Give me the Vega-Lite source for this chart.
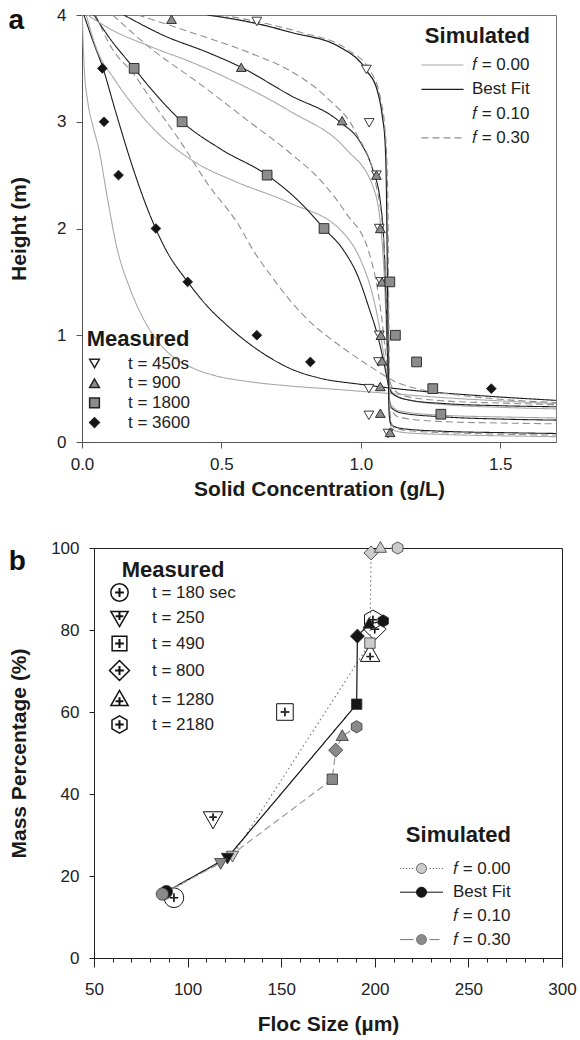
{
 "$schema": "https://vega.github.io/schema/vega-lite/v6.json",
 "background": "white",
 "padding": {"left": 7, "top": 5, "right": 5, "bottom": 0},
 "columns": 1,
 "spacing": 38,
 "resolve": {"scale": {"stroke": "independent", "strokeDash": "independent", "fill": "independent", "shape": "independent"}},
 "config": {
  "font": "Liberation Sans",
  "view": {"stroke": null},
  "axis": {"labelFont": "Liberation Sans", "labelFontSize": 17, "labelColor": "#222", "titleFont": "Liberation Sans", "titleFontSize": 21, "titleFontWeight": "bold", "titleColor": "#1a1a1a", "grid": false, "labelFlush": false, "tickWidth": 1, "domainWidth": 1},
  "legend": {"labelFont": "Liberation Sans", "labelFontSize": 17, "labelColor": "#222", "titleFont": "Liberation Sans", "titleFontSize": 22, "titleFontWeight": "bold", "titleColor": "#1a1a1a", "padding": 0},
  "title": {"font": "Liberation Sans"}
 },
 "datasets": {
  "curvesA": [
   {"t":3600,"s":"f = 0.00","c":0.001,"h":4},{"t":3600,"s":"f = 0.00","c":0.004,"h":3.75},{"t":3600,"s":"f = 0.00","c":0.008,"h":3.5},{"t":3600,"s":"f = 0.00","c":0.02,"h":3.2},{"t":3600,"s":"f = 0.00","c":0.04,"h":2.95},{"t":3600,"s":"f = 0.00","c":0.061,"h":2.74},{"t":3600,"s":"f = 0.00","c":0.09,"h":2.3},{"t":3600,"s":"f = 0.00","c":0.127,"h":1.8},{"t":3600,"s":"f = 0.00","c":0.17,"h":1.45},{"t":3600,"s":"f = 0.00","c":0.217,"h":1.17},{"t":3600,"s":"f = 0.00","c":0.27,"h":0.95},{"t":3600,"s":"f = 0.00","c":0.325,"h":0.8},{"t":3600,"s":"f = 0.00","c":0.4,"h":0.69},{"t":3600,"s":"f = 0.00","c":0.48,"h":0.62},{"t":3600,"s":"f = 0.00","c":0.6,"h":0.565},{"t":3600,"s":"f = 0.00","c":0.745,"h":0.525},{"t":3600,"s":"f = 0.00","c":0.9,"h":0.495},{"t":3600,"s":"f = 0.00","c":1.1,"h":0.455},{"t":3600,"s":"f = 0.00","c":1.3,"h":0.415},{"t":3600,"s":"f = 0.00","c":1.5,"h":0.385},{"t":3600,"s":"f = 0.00","c":1.7,"h":0.36},
   {"t":3600,"s":"Best Fit","c":0.007,"h":4},{"t":3600,"s":"Best Fit","c":0.04,"h":3.75},{"t":3600,"s":"Best Fit","c":0.073,"h":3.52},{"t":3600,"s":"Best Fit","c":0.12,"h":3.1},{"t":3600,"s":"Best Fit","c":0.181,"h":2.58},{"t":3600,"s":"Best Fit","c":0.24,"h":2.15},{"t":3600,"s":"Best Fit","c":0.301,"h":1.8},{"t":3600,"s":"Best Fit","c":0.379,"h":1.5},{"t":3600,"s":"Best Fit","c":0.45,"h":1.27},{"t":3600,"s":"Best Fit","c":0.517,"h":1.1},{"t":3600,"s":"Best Fit","c":0.6,"h":0.92},{"t":3600,"s":"Best Fit","c":0.68,"h":0.78},{"t":3600,"s":"Best Fit","c":0.745,"h":0.69},{"t":3600,"s":"Best Fit","c":0.85,"h":0.6},{"t":3600,"s":"Best Fit","c":1.0,"h":0.54},{"t":3600,"s":"Best Fit","c":1.2,"h":0.48},{"t":3600,"s":"Best Fit","c":1.45,"h":0.43},{"t":3600,"s":"Best Fit","c":1.7,"h":0.39},
   {"t":3600,"s":"f = 0.30","c":0.049,"h":4},{"t":3600,"s":"f = 0.30","c":0.1,"h":3.72},{"t":3600,"s":"f = 0.30","c":0.193,"h":3.42},{"t":3600,"s":"f = 0.30","c":0.27,"h":3.12},{"t":3600,"s":"f = 0.30","c":0.349,"h":2.83},{"t":3600,"s":"f = 0.30","c":0.45,"h":2.42},{"t":3600,"s":"f = 0.30","c":0.565,"h":2.02},{"t":3600,"s":"f = 0.30","c":0.613,"h":1.8},{"t":3600,"s":"f = 0.30","c":0.68,"h":1.55},{"t":3600,"s":"f = 0.30","c":0.745,"h":1.33},{"t":3600,"s":"f = 0.30","c":0.82,"h":1.12},{"t":3600,"s":"f = 0.30","c":0.9,"h":0.95},{"t":3600,"s":"f = 0.30","c":0.98,"h":0.8},{"t":3600,"s":"f = 0.30","c":1.05,"h":0.68},{"t":3600,"s":"f = 0.30","c":1.12,"h":0.57},{"t":3600,"s":"f = 0.30","c":1.2,"h":0.5},{"t":3600,"s":"f = 0.30","c":1.35,"h":0.44},{"t":3600,"s":"f = 0.30","c":1.5,"h":0.4},{"t":3600,"s":"f = 0.30","c":1.7,"h":0.37},
   {"t":1800,"s":"f = 0.00","c":0.015,"h":4},{"t":1800,"s":"f = 0.00","c":0.05,"h":3.7},{"t":1800,"s":"f = 0.00","c":0.121,"h":3.38},{"t":1800,"s":"f = 0.00","c":0.2,"h":3.1},{"t":1800,"s":"f = 0.00","c":0.277,"h":2.88},{"t":1800,"s":"f = 0.00","c":0.4,"h":2.63},{"t":1800,"s":"f = 0.00","c":0.55,"h":2.44},{"t":1800,"s":"f = 0.00","c":0.745,"h":2.24},{"t":1800,"s":"f = 0.00","c":0.937,"h":1.96},{"t":1800,"s":"f = 0.00","c":1.0,"h":1.7},{"t":1800,"s":"f = 0.00","c":1.04,"h":1.4},{"t":1800,"s":"f = 0.00","c":1.065,"h":1.1},{"t":1800,"s":"f = 0.00","c":1.08,"h":0.85},{"t":1800,"s":"f = 0.00","c":1.092,"h":0.68},{"t":1800,"s":"f = 0.00","c":1.1,"h":0.56},{"t":1800,"s":"f = 0.00","c":1.115,"h":0.46},{"t":1800,"s":"f = 0.00","c":1.16,"h":0.4},{"t":1800,"s":"f = 0.00","c":1.3,"h":0.35},{"t":1800,"s":"f = 0.00","c":1.5,"h":0.325},{"t":1800,"s":"f = 0.00","c":1.7,"h":0.31},
   {"t":1800,"s":"Best Fit","c":0.043,"h":4},{"t":1800,"s":"Best Fit","c":0.1,"h":3.78},{"t":1800,"s":"Best Fit","c":0.187,"h":3.5},{"t":1800,"s":"Best Fit","c":0.27,"h":3.24},{"t":1800,"s":"Best Fit","c":0.359,"h":3.0},{"t":1800,"s":"Best Fit","c":0.5,"h":2.74},{"t":1800,"s":"Best Fit","c":0.664,"h":2.5},{"t":1800,"s":"Best Fit","c":0.78,"h":2.25},{"t":1800,"s":"Best Fit","c":0.868,"h":2.0},{"t":1800,"s":"Best Fit","c":0.937,"h":1.8},{"t":1800,"s":"Best Fit","c":0.99,"h":1.55},{"t":1800,"s":"Best Fit","c":1.03,"h":1.25},{"t":1800,"s":"Best Fit","c":1.06,"h":1.0},{"t":1800,"s":"Best Fit","c":1.078,"h":0.8},{"t":1800,"s":"Best Fit","c":1.09,"h":0.65},{"t":1800,"s":"Best Fit","c":1.1,"h":0.52},{"t":1800,"s":"Best Fit","c":1.12,"h":0.44},{"t":1800,"s":"Best Fit","c":1.18,"h":0.39},{"t":1800,"s":"Best Fit","c":1.3,"h":0.36},{"t":1800,"s":"Best Fit","c":1.5,"h":0.34},{"t":1800,"s":"Best Fit","c":1.7,"h":0.33},
   {"t":1800,"s":"f = 0.30","c":0.11,"h":4},{"t":1800,"s":"f = 0.30","c":0.25,"h":3.68},{"t":1800,"s":"f = 0.30","c":0.42,"h":3.36},{"t":1800,"s":"f = 0.30","c":0.6,"h":3.0},{"t":1800,"s":"f = 0.30","c":0.745,"h":2.71},{"t":1800,"s":"f = 0.30","c":0.863,"h":2.43},{"t":1800,"s":"f = 0.30","c":0.948,"h":2.14},{"t":1800,"s":"f = 0.30","c":1.03,"h":1.77},{"t":1800,"s":"f = 0.30","c":1.062,"h":1.4},{"t":1800,"s":"f = 0.30","c":1.08,"h":1.05},{"t":1800,"s":"f = 0.30","c":1.09,"h":0.8},{"t":1800,"s":"f = 0.30","c":1.1,"h":0.62},{"t":1800,"s":"f = 0.30","c":1.115,"h":0.5},{"t":1800,"s":"f = 0.30","c":1.16,"h":0.43},{"t":1800,"s":"f = 0.30","c":1.3,"h":0.385},{"t":1800,"s":"f = 0.30","c":1.5,"h":0.365},{"t":1800,"s":"f = 0.30","c":1.7,"h":0.35},
   {"t":900,"s":"f = 0.00","c":0.02,"h":4},{"t":900,"s":"f = 0.00","c":0.1,"h":3.87},{"t":900,"s":"f = 0.00","c":0.25,"h":3.7},{"t":900,"s":"f = 0.00","c":0.4,"h":3.55},{"t":900,"s":"f = 0.00","c":0.52,"h":3.41},{"t":900,"s":"f = 0.00","c":0.745,"h":3.1},{"t":900,"s":"f = 0.00","c":0.948,"h":2.74},{"t":900,"s":"f = 0.00","c":1.044,"h":2.39},{"t":900,"s":"f = 0.00","c":1.072,"h":2.0},{"t":900,"s":"f = 0.00","c":1.085,"h":1.5},{"t":900,"s":"f = 0.00","c":1.093,"h":0.95},{"t":900,"s":"f = 0.00","c":1.098,"h":0.6},{"t":900,"s":"f = 0.00","c":1.101,"h":0.45},{"t":900,"s":"f = 0.00","c":1.108,"h":0.35},{"t":900,"s":"f = 0.00","c":1.14,"h":0.29},{"t":900,"s":"f = 0.00","c":1.3,"h":0.25},{"t":900,"s":"f = 0.00","c":1.5,"h":0.235},{"t":900,"s":"f = 0.00","c":1.7,"h":0.225},
   {"t":900,"s":"Best Fit","c":0.15,"h":4},{"t":900,"s":"Best Fit","c":0.3,"h":3.8},{"t":900,"s":"Best Fit","c":0.45,"h":3.65},{"t":900,"s":"Best Fit","c":0.571,"h":3.51},{"t":900,"s":"Best Fit","c":0.745,"h":3.25},{"t":900,"s":"Best Fit","c":0.924,"h":3.0},{"t":900,"s":"Best Fit","c":1.0,"h":2.8},{"t":900,"s":"Best Fit","c":1.043,"h":2.55},{"t":900,"s":"Best Fit","c":1.07,"h":2.25},{"t":900,"s":"Best Fit","c":1.082,"h":1.9},{"t":900,"s":"Best Fit","c":1.09,"h":1.4},{"t":900,"s":"Best Fit","c":1.095,"h":0.9},{"t":900,"s":"Best Fit","c":1.099,"h":0.55},{"t":900,"s":"Best Fit","c":1.102,"h":0.4},{"t":900,"s":"Best Fit","c":1.11,"h":0.32},{"t":900,"s":"Best Fit","c":1.15,"h":0.27},{"t":900,"s":"Best Fit","c":1.3,"h":0.235},{"t":900,"s":"Best Fit","c":1.5,"h":0.215},{"t":900,"s":"Best Fit","c":1.7,"h":0.205},
   {"t":900,"s":"f = 0.30","c":0.2,"h":4},{"t":900,"s":"f = 0.30","c":0.4,"h":3.83},{"t":900,"s":"f = 0.30","c":0.607,"h":3.64},{"t":900,"s":"f = 0.30","c":0.745,"h":3.48},{"t":900,"s":"f = 0.30","c":0.876,"h":3.23},{"t":900,"s":"f = 0.30","c":0.984,"h":2.89},{"t":900,"s":"f = 0.30","c":1.056,"h":2.39},{"t":900,"s":"f = 0.30","c":1.078,"h":2.0},{"t":900,"s":"f = 0.30","c":1.09,"h":1.5},{"t":900,"s":"f = 0.30","c":1.097,"h":0.9},{"t":900,"s":"f = 0.30","c":1.1,"h":0.55},{"t":900,"s":"f = 0.30","c":1.103,"h":0.4},{"t":900,"s":"f = 0.30","c":1.11,"h":0.3},{"t":900,"s":"f = 0.30","c":1.14,"h":0.23},{"t":900,"s":"f = 0.30","c":1.3,"h":0.19},{"t":900,"s":"f = 0.30","c":1.5,"h":0.178},{"t":900,"s":"f = 0.30","c":1.7,"h":0.17},
   {"t":450,"s":"f = 0.00","c":0.46,"h":4},{"t":450,"s":"f = 0.00","c":0.64,"h":3.91},{"t":450,"s":"f = 0.00","c":0.76,"h":3.83},{"t":450,"s":"f = 0.00","c":0.93,"h":3.69},{"t":450,"s":"f = 0.00","c":1.025,"h":3.47},{"t":450,"s":"f = 0.00","c":1.063,"h":3.27},{"t":450,"s":"f = 0.00","c":1.079,"h":3.04},{"t":450,"s":"f = 0.00","c":1.089,"h":2.78},{"t":450,"s":"f = 0.00","c":1.094,"h":2.3},{"t":450,"s":"f = 0.00","c":1.097,"h":1.6},{"t":450,"s":"f = 0.00","c":1.1,"h":0.9},{"t":450,"s":"f = 0.00","c":1.102,"h":0.35},{"t":450,"s":"f = 0.00","c":1.104,"h":0.2},{"t":450,"s":"f = 0.00","c":1.112,"h":0.12},{"t":450,"s":"f = 0.00","c":1.15,"h":0.09},{"t":450,"s":"f = 0.00","c":1.3,"h":0.07},{"t":450,"s":"f = 0.00","c":1.5,"h":0.058},{"t":450,"s":"f = 0.00","c":1.7,"h":0.05},
   {"t":450,"s":"Best Fit","c":0.45,"h":4},{"t":450,"s":"Best Fit","c":0.627,"h":3.92},{"t":450,"s":"Best Fit","c":0.745,"h":3.84},{"t":450,"s":"Best Fit","c":0.924,"h":3.7},{"t":450,"s":"Best Fit","c":1.02,"h":3.48},{"t":450,"s":"Best Fit","c":1.06,"h":3.28},{"t":450,"s":"Best Fit","c":1.077,"h":3.05},{"t":450,"s":"Best Fit","c":1.087,"h":2.8},{"t":450,"s":"Best Fit","c":1.092,"h":2.3},{"t":450,"s":"Best Fit","c":1.095,"h":1.6},{"t":450,"s":"Best Fit","c":1.098,"h":0.9},{"t":450,"s":"Best Fit","c":1.1,"h":0.4},{"t":450,"s":"Best Fit","c":1.102,"h":0.25},{"t":450,"s":"Best Fit","c":1.11,"h":0.16},{"t":450,"s":"Best Fit","c":1.15,"h":0.125},{"t":450,"s":"Best Fit","c":1.3,"h":0.1},{"t":450,"s":"Best Fit","c":1.5,"h":0.088},{"t":450,"s":"Best Fit","c":1.7,"h":0.08},
   {"t":450,"s":"f = 0.30","c":0.5,"h":4},{"t":450,"s":"f = 0.30","c":0.66,"h":3.92},{"t":450,"s":"f = 0.30","c":0.78,"h":3.84},{"t":450,"s":"f = 0.30","c":0.95,"h":3.68},{"t":450,"s":"f = 0.30","c":1.04,"h":3.45},{"t":450,"s":"f = 0.30","c":1.072,"h":3.2},{"t":450,"s":"f = 0.30","c":1.086,"h":2.95},{"t":450,"s":"f = 0.30","c":1.094,"h":2.6},{"t":450,"s":"f = 0.30","c":1.098,"h":2.0},{"t":450,"s":"f = 0.30","c":1.1,"h":1.3},{"t":450,"s":"f = 0.30","c":1.102,"h":0.7},{"t":450,"s":"f = 0.30","c":1.104,"h":0.35},{"t":450,"s":"f = 0.30","c":1.108,"h":0.2},{"t":450,"s":"f = 0.30","c":1.12,"h":0.13},{"t":450,"s":"f = 0.30","c":1.2,"h":0.1},{"t":450,"s":"f = 0.30","c":1.4,"h":0.08},{"t":450,"s":"f = 0.30","c":1.7,"h":0.065}
  ],
  "measA": [
   {"lab":"t = 450s","c":0.627,"h":3.94},{"lab":"t = 450s","c":1.02,"h":3.49},{"lab":"t = 450s","c":1.03,"h":2.99},{"lab":"t = 450s","c":1.056,"h":2.5},{"lab":"t = 450s","c":1.066,"h":2.0},{"lab":"t = 450s","c":1.072,"h":1.5},{"lab":"t = 450s","c":1.066,"h":1.0},{"lab":"t = 450s","c":1.063,"h":0.75},{"lab":"t = 450s","c":1.029,"h":0.5},{"lab":"t = 450s","c":1.029,"h":0.25},{"lab":"t = 450s","c":1.098,"h":0.08},
   {"lab":"t = 900","c":0.321,"h":3.96},{"lab":"t = 900","c":0.571,"h":3.51},{"lab":"t = 900","c":0.933,"h":3.01},{"lab":"t = 900","c":1.056,"h":2.5},{"lab":"t = 900","c":1.07,"h":2.0},{"lab":"t = 900","c":1.076,"h":1.5},{"lab":"t = 900","c":1.072,"h":1.0},{"lab":"t = 900","c":1.076,"h":0.76},{"lab":"t = 900","c":1.07,"h":0.52},{"lab":"t = 900","c":1.07,"h":0.27},{"lab":"t = 900","c":1.105,"h":0.09},
   {"lab":"t = 1800","c":0.187,"h":3.5},{"lab":"t = 1800","c":0.359,"h":3.0},{"lab":"t = 1800","c":0.664,"h":2.5},{"lab":"t = 1800","c":0.868,"h":2.0},{"lab":"t = 1800","c":1.104,"h":1.5},{"lab":"t = 1800","c":1.124,"h":1.0},{"lab":"t = 1800","c":1.2,"h":0.75},{"lab":"t = 1800","c":1.258,"h":0.5},{"lab":"t = 1800","c":1.287,"h":0.26},
   {"lab":"t = 3600","c":0.073,"h":3.5},{"lab":"t = 3600","c":0.079,"h":3.0},{"lab":"t = 3600","c":0.131,"h":2.5},{"lab":"t = 3600","c":0.265,"h":2.0},{"lab":"t = 3600","c":0.379,"h":1.5},{"lab":"t = 3600","c":0.627,"h":1.0},{"lab":"t = 3600","c":0.819,"h":0.75},{"lab":"t = 3600","c":1.468,"h":0.5}
  ],
  "measB": [
   {"t":180,"lab":"t = 180 sec","size":92.7,"pct":14.7},
   {"t":250,"lab":"t = 250","size":113.6,"pct":34.0},
   {"t":490,"lab":"t = 490","size":152,"pct":60},
   {"t":800,"lab":"t = 800","size":200,"pct":80.2},
   {"t":1280,"lab":"t = 1280","size":197.5,"pct":74},
   {"t":2180,"lab":"t = 2180","size":199,"pct":82.5}
  ],
  "simB": [
   {"s":"f = 0.00","t":180,"lab":"t = 180 sec","size":88,"pct":15.8},
   {"s":"f = 0.00","t":250,"lab":"t = 250","size":124,"pct":25},
   {"s":"f = 0.00","t":490,"lab":"t = 490","size":197.4,"pct":76.8},
   {"s":"f = 0.00","t":800,"lab":"t = 800","size":198,"pct":98.8},
   {"s":"f = 0.00","t":1280,"lab":"t = 1280","size":203,"pct":100},
   {"s":"f = 0.00","t":2180,"lab":"t = 2180","size":212.2,"pct":100},
   {"s":"Best Fit","t":180,"lab":"t = 180 sec","size":88.7,"pct":16.2},
   {"s":"Best Fit","t":250,"lab":"t = 250","size":121.3,"pct":24.5},
   {"s":"Best Fit","t":490,"lab":"t = 490","size":190.3,"pct":61.9},
   {"s":"Best Fit","t":800,"lab":"t = 800","size":190.7,"pct":78.5},
   {"s":"Best Fit","t":1280,"lab":"t = 1280","size":197,"pct":81.5},
   {"s":"Best Fit","t":2180,"lab":"t = 2180","size":204.5,"pct":82.2},
   {"s":"f = 0.30","t":180,"lab":"t = 180 sec","size":86.5,"pct":15.6},
   {"s":"f = 0.30","t":250,"lab":"t = 250","size":117.7,"pct":23.2},
   {"s":"f = 0.30","t":490,"lab":"t = 490","size":177.3,"pct":43.6},
   {"s":"f = 0.30","t":800,"lab":"t = 800","size":179.1,"pct":50.7},
   {"s":"f = 0.30","t":1280,"lab":"t = 1280","size":182.6,"pct":54.1},
   {"s":"f = 0.30","t":2180,"lab":"t = 2180","size":190.3,"pct":56.4}
  ],
  "spacer": [{"v": 0}]
 },
 "concat": [
  {
   "spacing": 0,
   "resolve": {"scale": {"stroke": "independent", "strokeDash": "independent", "fill": "independent", "shape": "independent"}},
   "hconcat": [
    {"width": 1, "height": 1, "data": {"name": "spacer"}, "mark": {"type": "rect", "opacity": 0}, "encoding": {}},
    {
     "width": 474, "height": 427,
     "title": {"text": "a", "orient": "top", "anchor": "start", "frame": "bounds", "fontSize": 28, "fontWeight": "bold", "color": "#111", "baseline": "alphabetic", "offset": -51},
     "view": {"stroke": "#777", "strokeWidth": 1},
     "layer": [
      {
       "data": {"name": "curvesA"},
       "mark": {"type": "line", "interpolate": "monotone", "clip": true, "strokeWidth": 1.1},
       "encoding": {
        "x": {"field": "c", "type": "quantitative", "scale": {"domain": [0, 1.7], "nice": false, "zero": false}, "axis": {"title": "Solid Concentration (g/L)", "values": [0, 0.5, 1, 1.5], "format": ".1f", "tickSize": 6, "labelPadding": 8, "titlePadding": 6, "domainColor": "#555", "tickColor": "#555"}},
        "y": {"field": "h", "type": "quantitative", "scale": {"domain": [0, 4], "nice": false}, "axis": {"title": "Height (m)", "values": [0, 1, 2, 3, 4], "format": "d", "tickSize": 6, "labelPadding": 10, "titlePadding": 27, "domainColor": "#555", "tickColor": "#555"}},
        "detail": {"field": "t", "type": "nominal"},
        "stroke": {"field": "s", "type": "nominal", "scale": {"domain": ["f = 0.00", "Best Fit", "f = 0.10", "f = 0.30"], "range": ["#a8a8a8", "#1c1c1c", "rgba(0,0,0,0)", "#8f8f8f"]},
         "legend": {"title": "Simulated", "orient": "none", "legendX": 343, "legendY": 11, "titleAnchor": "end", "symbolType": "M-4.2,0H4.2", "symbolSize": 100, "symbolStrokeWidth": 1.2, "labelOffset": 21, "rowPadding": 6.3, "titlePadding": 8.5, "labelExpr": "replace(datum.label, 'f = ', '𝑓 = ')"}},
        "strokeDash": {"field": "s", "type": "nominal", "scale": {"domain": ["f = 0.00", "Best Fit", "f = 0.10", "f = 0.30"], "range": [[1, 0], [1, 0], [1, 0], [7, 4]]},
         "legend": {"title": "Simulated", "orient": "none", "legendX": 343, "legendY": 11, "titleAnchor": "end", "symbolType": "M-4.2,0H4.2", "symbolSize": 100, "symbolStrokeWidth": 1.2, "labelOffset": 21, "rowPadding": 6.3, "titlePadding": 8.5, "labelExpr": "replace(datum.label, 'f = ', '𝑓 = ')"}}
       }
      },
      {
       "data": {"name": "measA"},
       "mark": {"type": "point", "filled": true, "opacity": 1, "stroke": "#222", "strokeWidth": 0.9, "size": 95},
       "encoding": {
        "x": {"field": "c", "type": "quantitative"},
        "y": {"field": "h", "type": "quantitative"},
        "shape": {"field": "lab", "type": "nominal", "scale": {"domain": ["t = 450s", "t = 900", "t = 1800", "t = 3600"], "range": ["triangle-down", "triangle-up", "square", "diamond"]},
         "legend": {"title": "Measured", "orient": "none", "legendX": 4, "legendY": 314, "titleAnchor": "middle", "symbolSize": 95, "labelOffset": 25, "rowPadding": 1.7, "titlePadding": 4,
          "encode": {"symbols": {"stroke": {"value": "#222"}, "strokeWidth": {"value": 0.9}}}}},
        "fill": {"field": "lab", "type": "nominal", "scale": {"domain": ["t = 450s", "t = 900", "t = 1800", "t = 3600"], "range": ["#ffffff", "#8c8c8c", "#8c8c8c", "#141414"]},
         "legend": {"title": "Measured", "orient": "none", "legendX": 4, "legendY": 314, "titleAnchor": "middle", "symbolSize": 95, "labelOffset": 25, "rowPadding": 1.7, "titlePadding": 4,
          "encode": {"symbols": {"stroke": {"value": "#222"}, "strokeWidth": {"value": 0.9}}}}}
       }
      }
     ]
    }
   ]
  },
  {
   "spacing": 0,
   "resolve": {"scale": {"stroke": "independent", "strokeDash": "independent", "fill": "independent", "shape": "independent"}},
   "hconcat": [
    {"width": 1, "height": 1, "data": {"name": "spacer"}, "mark": {"type": "rect", "opacity": 0}, "encoding": {}},
    {
     "width": 468, "height": 410,
     "title": {"text": "b", "orient": "top", "anchor": "start", "frame": "bounds", "fontSize": 28, "fontWeight": "bold", "color": "#111", "baseline": "alphabetic", "offset": -59},
     "view": {"stroke": "#222", "strokeWidth": 1},
     "resolve": {"scale": {"shape": "independent", "fill": "independent", "stroke": "independent", "strokeDash": "independent"}, "axis": {"x": "independent"}},
     "layer": [
      {
       "data": {"name": "measB"},
       "mark": {"type": "point", "filled": true, "opacity": 1, "fill": "white", "stroke": "#111", "strokeWidth": 1, "size": 380},
       "encoding": {
        "x": {"field": "size", "type": "quantitative", "scale": {"domain": [50, 300], "nice": false, "zero": false},
         "axis": {"title": "Floc Size (µm)", "orient": "bottom", "values": [50, 100, 150, 200, 250, 300], "tickSize": 9, "labelPadding": 14, "titlePadding": 16, "domainColor": "#222", "tickColor": "#222"}},
        "y": {"field": "pct", "type": "quantitative", "scale": {"domain": [0, 100], "nice": false},
         "axis": {"title": "Mass Percentage (%)", "values": [0, 20, 40, 60, 80, 100], "tickSize": 5, "labelPadding": 10, "titlePadding": 21, "domainColor": "#222", "tickColor": "#222"}},
        "shape": {"field": "lab", "type": "nominal", "scale": {"domain": ["t = 180 sec", "t = 250", "t = 490", "t = 800", "t = 1280", "t = 2180"],
          "range": [
           "M-1,0A1,1 0 1,0 1,0A1,1 0 1,0 -1,0ZM-0.42,-0.03H-0.03V-0.42H0.03V-0.03H0.42V0.03H0.03V0.42H-0.03V0.03H-0.42Z",
           "M-1,-0.7L1,-0.7L0,1.05ZM-0.36,-0.18H-0.03V-0.51H0.03V-0.18H0.36V-0.12H0.03V0.21H-0.03V-0.12H-0.36Z",
           "M-0.85,-0.85H0.85V0.85H-0.85ZM-0.42,-0.03H-0.03V-0.42H0.03V-0.03H0.42V0.03H0.03V0.42H-0.03V0.03H-0.42Z",
           "M0,-1.15L1.15,0L0,1.15L-1.15,0ZM-0.42,-0.03H-0.03V-0.42H0.03V-0.03H0.42V0.03H0.03V0.42H-0.03V0.03H-0.42Z",
           "M-1,0.7L1,0.7L0,-1.05ZM-0.36,0.17H-0.03V-0.16H0.03V0.17H0.36V0.23H0.03V0.56H-0.03V0.23H-0.36Z",
           "M0,-1L0.866,-0.5L0.866,0.5L0,1L-0.866,0.5L-0.866,-0.5ZM-0.4,-0.03H-0.03V-0.4H0.03V-0.03H0.4V0.03H0.03V0.4H-0.03V0.03H-0.4Z"
          ]},
         "legend": {"title": "Measured", "orient": "none", "legendX": 16, "legendY": 12, "titleAnchor": "middle", "symbolSize": 300, "labelOffset": 23, "rowPadding": 3, "titlePadding": 1,
          "encode": {"symbols": {"stroke": {"value": "#111"}, "fill": {"value": "white"}, "strokeWidth": {"value": 1}}}}}
       }
      },
      {
       "data": {"name": "simB"},
       "mark": {"type": "line", "strokeWidth": 1.2},
       "encoding": {
        "x": {"field": "size", "type": "quantitative",
         "axis": {"orient": "bottom", "values": [60,70,80,90,110,120,130,140,160,170,180,190,210,220,230,240,260,270,280,290], "labels": false, "tickSize": 4, "domain": false, "title": null, "tickColor": "#222"}},
        "y": {"field": "pct", "type": "quantitative"},
        "order": {"field": "t", "type": "quantitative"},
        "stroke": {"field": "s", "type": "nominal", "scale": {"domain": ["f = 0.00", "Best Fit", "f = 0.30"], "range": ["#7a7a7a", "#111111", "#9a9a9a"]}, "legend": null},
        "strokeDash": {"field": "s", "type": "nominal", "scale": {"domain": ["f = 0.00", "Best Fit", "f = 0.30"], "range": [[1.5, 3], [1, 0], [7, 4]]}, "legend": null}
       }
      },
      {
       "data": {"name": "simB"},
       "mark": {"type": "point", "filled": true, "opacity": 1, "stroke": "#333", "strokeWidth": 0.8, "size": 150},
       "encoding": {
        "x": {"field": "size", "type": "quantitative", "axis": null},
        "y": {"field": "pct", "type": "quantitative"},
        "shape": {"field": "lab", "type": "nominal", "scale": {"domain": ["t = 180 sec", "t = 250", "t = 490", "t = 800", "t = 1280", "t = 2180"],
          "range": [
           "M-1,0A1,1 0 1,0 1,0A1,1 0 1,0 -1,0Z",
           "M-1,-0.7L1,-0.7L0,1.05Z",
           "M-0.85,-0.85H0.85V0.85H-0.85Z",
           "M0,-1.15L1.15,0L0,1.15L-1.15,0Z",
           "M-1,0.7L1,0.7L0,-1.05Z",
           "M0,-1L0.866,-0.5L0.866,0.5L0,1L-0.866,0.5L-0.866,-0.5Z"
          ]}, "legend": null},
        "fill": {"field": "s", "type": "nominal", "scale": {"domain": ["f = 0.00", "Best Fit", "f = 0.30"], "range": ["#cccccc", "#151515", "#8a8a8a"]}, "legend": null}
       }
      },
      {
       "data": {"name": "simB"},
       "transform": [{"filter": "false"}],
       "mark": {"type": "point", "filled": true, "opacity": 1, "strokeWidth": 1},
       "encoding": {
        "shape": {"field": "s", "type": "nominal", "scale": {"domain": ["f = 0.00", "Best Fit", "f = 0.10", "f = 0.30"],
          "range": [
           "M-4.3,0h0.25M-3.7,0h0.25M-3.1,0h0.25M-2.5,0h0.25M-1.9,0h0.25M1.65,0h0.25M2.25,0h0.25M2.85,0h0.25M3.45,0h0.25M4.05,0h0.25M-1,0A1,1 0 1,0 1,0A1,1 0 1,0 -1,0Z",
           "M-4.3,0H-1M1,0H4.3M-1,0A1,1 0 1,0 1,0A1,1 0 1,0 -1,0Z",
           "M0,0",
           "M-4.3,0H-1.6M1.6,0H3.6M-1,0A1,1 0 1,0 1,0A1,1 0 1,0 -1,0Z"
          ]},
         "legend": {"title": "Simulated", "orient": "none", "legendX": 312, "legendY": 277, "titleAnchor": "end", "symbolSize": 100, "symbolStrokeWidth": 1, "labelOffset": 23, "rowPadding": 5.7, "titlePadding": 13, "labelExpr": "replace(datum.label, 'f = ', '𝑓 = ')"}},
        "fill": {"field": "s", "type": "nominal", "scale": {"domain": ["f = 0.00", "Best Fit", "f = 0.10", "f = 0.30"], "range": ["#cccccc", "#151515", "rgba(0,0,0,0)", "#8a8a8a"]},
         "legend": {"title": "Simulated", "orient": "none", "legendX": 312, "legendY": 277, "titleAnchor": "end", "symbolSize": 100, "symbolStrokeWidth": 1, "labelOffset": 23, "rowPadding": 5.7, "titlePadding": 13, "labelExpr": "replace(datum.label, 'f = ', '𝑓 = ')"}},
        "stroke": {"field": "s", "type": "nominal", "scale": {"domain": ["f = 0.00", "Best Fit", "f = 0.10", "f = 0.30"], "range": ["#666666", "#111111", "rgba(0,0,0,0)", "#777777"]},
         "legend": {"title": "Simulated", "orient": "none", "legendX": 312, "legendY": 277, "titleAnchor": "end", "symbolSize": 100, "symbolStrokeWidth": 1, "labelOffset": 23, "rowPadding": 5.7, "titlePadding": 13, "labelExpr": "replace(datum.label, 'f = ', '𝑓 = ')"}}
       }
      }
     ]
    }
   ]
  }
 ]
}
